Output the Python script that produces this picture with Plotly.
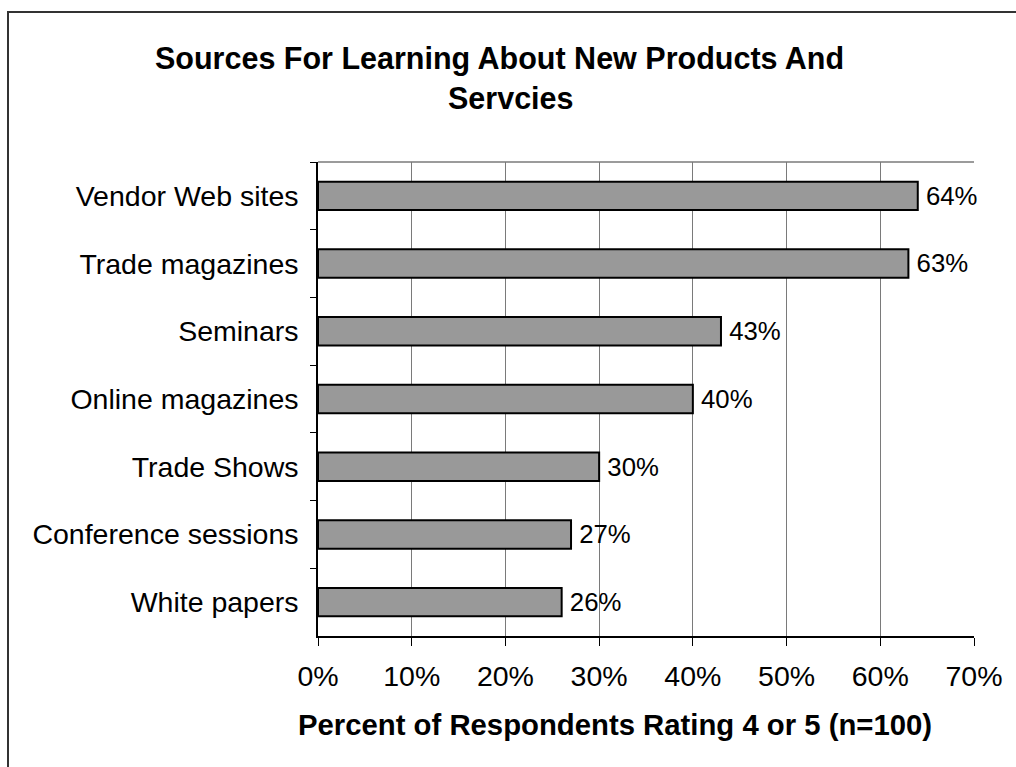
import plotly.graph_objects as go

# Survey results: share of respondents rating each source 4 or 5
sources = [
    "Vendor Web sites",
    "Trade magazines",
    "Seminars",
    "Online magazines",
    "Trade Shows",
    "Conference sessions",
    "White papers",
]
percent = [64, 63, 43, 40, 30, 27, 26]
x_ticks = [0, 10, 20, 30, 40, 50, 60, 70]
x_tick_labels = [f"{v}%" for v in x_ticks]

W, H = 1016, 767
ML, MR, MT, MB = 318, 42, 162, 131
PW, PH = W - ML - MR, H - MT - MB
FONT = "Liberation Sans, Arial, sans-serif"


def px_x(px):
    return (px - ML) / PW


def px_y(py):
    return (H - MB - py) / PH


fig = go.Figure(
    go.Bar(
        x=percent,
        y=sources,
        orientation="h",
        marker=dict(color="#999999", line=dict(color="#000000", width=2)),
        # thin space keeps the value labels a little clear of the bar ends
        text=[f"\u2009{v}%" for v in percent],
        textposition="outside",
        textfont=dict(family=FONT, size=29, color="#000000"),
        cliponaxis=False,
        hoverinfo="skip",
    )
)

fig.update_layout(
    width=W,
    height=H,
    margin=dict(l=ML, r=MR, t=MT, b=MB, pad=0),
    paper_bgcolor="white",
    plot_bgcolor="white",
    bargap=0.58,
    showlegend=False,
    font=dict(family=FONT, size=29, color="#000000"),
    xaxis=dict(
        range=[0, 70],
        tickvals=x_ticks,
        ticktext=x_tick_labels,
        showgrid=True,
        gridcolor="#7a7a7a",
        gridwidth=1,
        showline=True,
        linecolor="#000000",
        linewidth=1.5,
        ticks="outside",
        ticklen=8,
        tickcolor="#000000",
        tickfont=dict(family=FONT, size=28.5),
        ticklabelstandoff=6,
        zeroline=False,
        fixedrange=True,
    ),
    yaxis=dict(
        categoryorder="array",
        categoryarray=sources,
        autorange="reversed",
        tickson="boundaries",
        showgrid=False,
        showline=True,
        linecolor="#000000",
        linewidth=1.5,
        ticks="outside",
        ticklen=6,
        tickcolor="#000000",
        tickfont=dict(family=FONT, size=28.5),
        ticklabelstandoff=12,
        fixedrange=True,
    ),
    shapes=[
        # top edge of the plotting area
        dict(type="line", xref="paper", yref="paper", x0=0, x1=1, y0=1, y1=1,
             line=dict(color="#7a7a7a", width=1.5)),
        # outer chart frame
        dict(type="rect", xref="paper", yref="paper",
             x0=px_x(8), x1=px_x(1200), y0=px_y(1000), y1=px_y(12),
             line=dict(color="#333333", width=2), layer="below"),
    ],
    annotations=[
        dict(text="<b>Sources For Learning About New Products And</b>",
             xref="paper", yref="paper", x=px_x(499), y=px_y(58),
             xanchor="center", yanchor="middle", showarrow=False,
             font=dict(family=FONT, size=30.5)),
        dict(text="<b>Servcies</b>",
             xref="paper", yref="paper", x=px_x(511), y=px_y(98),
             xanchor="center", yanchor="middle", showarrow=False,
             font=dict(family=FONT, size=30.5)),
        dict(text="<b>Percent of Respondents Rating 4 or 5 (n=100)</b>",
             xref="paper", yref="paper", x=px_x(615), y=px_y(724),
             xanchor="center", yanchor="middle", showarrow=False,
             font=dict(family=FONT, size=29.3)),
    ],
)

fig.write_html("out.html")
